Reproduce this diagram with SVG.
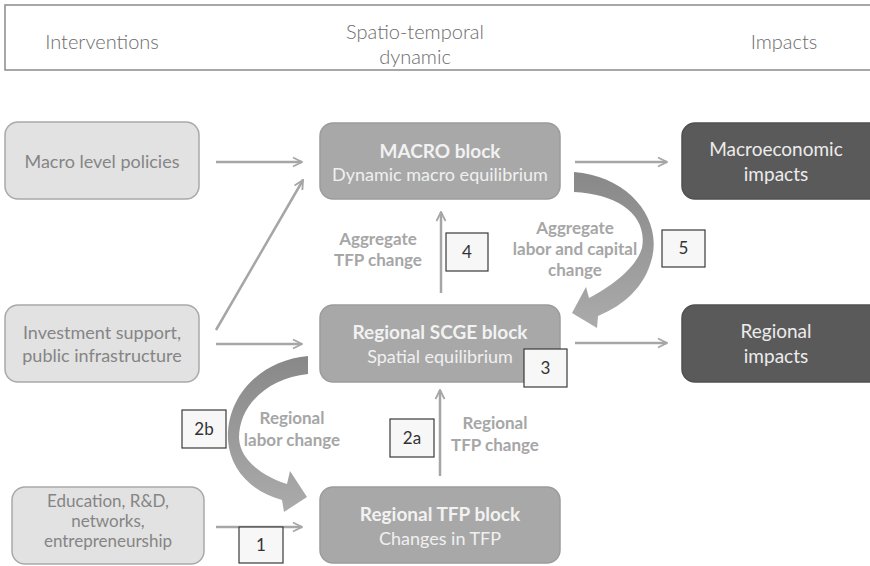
<svg xmlns="http://www.w3.org/2000/svg" width="870" height="566" viewBox="0 0 870 566">
<style>
  text { font-family: Lato, "Open Sans", "Liberation Sans", sans-serif; text-anchor: middle; }
  .hdr { font-size: 20px; fill: #6b6b6b; font-weight: 300; }
  .lbox { fill: #e2e2e2; stroke: #a9a9a9; stroke-width: 1.5; }
  .ltxt { font-size: 18px; fill: #858585; }
  .ltxt2 { font-size: 17px; fill: #858585; }
  .mbox { fill: #a8a8a8; stroke: #9c9c9c; stroke-width: 1.5; }
  .mtitle { font-size: 19px; font-weight: bold; fill: #f2f2f2; }
  .msub { font-size: 18px; fill: #f0f0f0; }
  .rbox { fill: #5a5a5a; stroke: #505050; stroke-width: 1.5; }
  .rtxt { font-size: 19px; fill: #ececec; }
  .lbl { font-size: 17px; font-weight: bold; fill: #a6a6a6; }
  .num { fill: #f7f7f7; stroke: #3a3a3a; stroke-width: 1.2; }
  .ntxt { font-size: 17px; fill: #333333; }
  .arr { stroke: #a6a6a6; stroke-width: 2.5; fill: none; marker-end: url(#ah); }
</style>
<defs>
  <marker id="ah" viewBox="0 0 10 10" refX="9" refY="5" markerWidth="4.5" markerHeight="4.5" markerUnits="strokeWidth" orient="auto">
    <path d="M1,1 L9,5 L1,9" fill="none" stroke="#a6a6a6" stroke-width="1.6"/>
  </marker>
  <linearGradient id="g5" x1="0" y1="0" x2="0" y2="1">
    <stop offset="0" stop-color="#888888"/>
    <stop offset="1" stop-color="#ababab"/>
  </linearGradient>
</defs>
<rect x="0" y="0" width="870" height="566" fill="#ffffff"/>

<g id="header">
  <rect x="5" y="5" width="880" height="65" fill="#ffffff" stroke="#8a8a8a" stroke-width="1.5"/>
  <text class="hdr" x="102" y="49">Interventions</text>
  <text class="hdr" x="415" y="39">Spatio-temporal</text>
  <text class="hdr" x="415" y="64">dynamic</text>
  <text class="hdr" x="784" y="49">Impacts</text>
</g>

<g id="connectors">
  <line class="arr" x1="216" y1="162" x2="302" y2="162"/>
  <line class="arr" x1="216" y1="344" x2="302" y2="344"/>
  <line class="arr" x1="216" y1="527" x2="302" y2="527"/>
  <line class="arr" x1="216" y1="330" x2="303" y2="180"/>
  <line class="arr" x1="575" y1="162" x2="667" y2="162"/>
  <line class="arr" x1="575" y1="343" x2="667" y2="343"/>
  <line class="arr" x1="441" y1="293" x2="441" y2="212"/>
  <line class="arr" x1="440" y1="476" x2="440" y2="390"/>
  <path id="arrow5" fill="url(#g5)" d="M574,172 C628,176 662,218 652,258 C645,287 624,305 598,316 L597,328 L572,313 L586,287 L589,298 C612,286 636,268 642,248 C648,215 618,194 574,192 Z"/>
  <path id="arrow2b" fill="url(#g5)" d="M308,356 C262,360 226,395 228,440 C230,470 252,492 282,500 L284,512 L307,497 L290,471 L287,484 C262,476 240,460 239,438 C239,405 268,378 308,374 Z"/>
</g>

<g id="labels">
  <text class="lbl" x="378" y="245">Aggregate</text>
  <text class="lbl" x="378" y="266">TFP change</text>
  <text class="lbl" x="575" y="234">Aggregate</text>
  <text class="lbl" x="575" y="255">labor and capital</text>
  <text class="lbl" x="575" y="276">change</text>
  <text class="lbl" x="292" y="424">Regional</text>
  <text class="lbl" x="292" y="446">labor change</text>
  <text class="lbl" x="495" y="429">Regional</text>
  <text class="lbl" x="495" y="451">TFP change</text>
</g>

<g id="macro-policies">
  <rect class="lbox" x="5" y="122" width="194" height="77" rx="13"/>
  <text class="ltxt" x="102" y="168">Macro level policies</text>
</g>
<g id="investment">
  <rect class="lbox" x="5" y="305" width="194" height="77" rx="13"/>
  <text class="ltxt" x="102" y="339">Investment support,</text>
  <text class="ltxt" x="102" y="362">public infrastructure</text>
</g>
<g id="education">
  <rect class="lbox" x="12" y="487" width="192" height="77" rx="13"/>
  <text class="ltxt2" x="108" y="507">Education, R&amp;D,</text>
  <text class="ltxt2" x="108" y="527">networks,</text>
  <text class="ltxt2" x="108" y="547">entrepreneurship</text>
</g>

<g id="macro-block">
  <rect class="mbox" x="320" y="123" width="240" height="76" rx="13"/>
  <text class="mtitle" x="440" y="158">MACRO block</text>
  <text class="msub" x="440" y="181">Dynamic macro equilibrium</text>
</g>
<g id="scge-block">
  <rect class="mbox" x="320" y="305" width="240" height="77" rx="13"/>
  <text class="mtitle" x="440" y="339">Regional SCGE block</text>
  <text class="msub" x="440" y="363">Spatial equilibrium</text>
</g>
<g id="tfp-block">
  <rect class="mbox" x="320" y="487" width="240" height="76" rx="13"/>
  <text class="mtitle" x="440" y="521">Regional TFP block</text>
  <text class="msub" x="440" y="545">Changes in TFP</text>
</g>

<g id="macro-impacts">
  <rect class="rbox" x="682" y="123" width="200" height="76" rx="13"/>
  <text class="rtxt" x="776" y="156">Macroeconomic</text>
  <text class="rtxt" x="776" y="181">impacts</text>
</g>
<g id="regional-impacts">
  <rect class="rbox" x="682" y="305" width="200" height="77" rx="13"/>
  <text class="rtxt" x="776" y="338">Regional</text>
  <text class="rtxt" x="776" y="363">impacts</text>
</g>

<g id="num-4"><rect class="num" x="446" y="233" width="42" height="38"/><text class="ntxt" x="467" y="258">4</text></g>
<g id="num-5"><rect class="num" x="662" y="230" width="43" height="37"/><text class="ntxt" x="683.5" y="254">5</text></g>
<g id="num-3"><rect class="num" x="524" y="349" width="43" height="38"/><text class="ntxt" x="545.5" y="374">3</text></g>
<g id="num-2b"><rect class="num" x="182" y="410" width="44" height="38"/><text class="ntxt" x="204" y="435">2b</text></g>
<g id="num-2a"><rect class="num" x="390" y="419" width="44" height="38"/><text class="ntxt" x="412" y="444">2a</text></g>
<g id="num-1"><rect class="num" x="239" y="527" width="44" height="36"/><text class="ntxt" x="261" y="551">1</text></g>
</svg>
